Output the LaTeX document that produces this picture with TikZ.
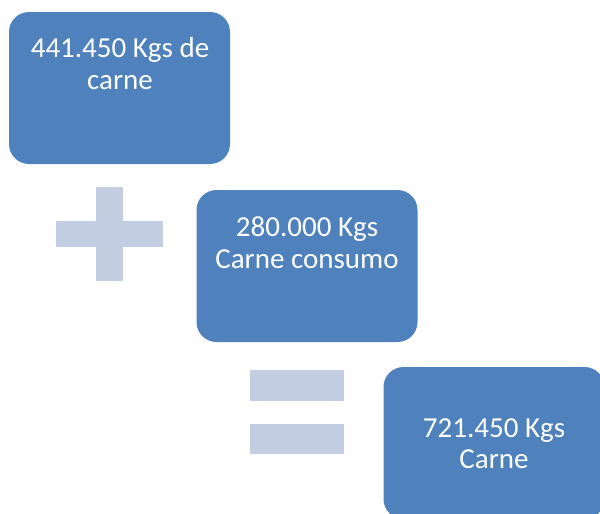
\documentclass[tikz,border=0pt]{standalone}
\usepackage{fontspec}
\setmainfont{Carlito}
\definecolor{boxblue}{RGB}{79,129,189}
\definecolor{oplight}{RGB}{196,206,226}
\tikzset{
  box/.style={fill=boxblue, draw=none, rounded corners=20pt, minimum width=221pt, minimum height=152pt, inner sep=0pt},
  txt/.style={text=white, font=\fontsize{29}{32}\selectfont, anchor=base, inner sep=0pt},
  opbar/.style={fill=oplight, draw=none}
}
\begin{document}
\begin{tikzpicture}[x=1pt,y=-1pt]
\useasboundingbox (0,0) rectangle (600,514);
\clip (0,0) rectangle (600,514);
% boxes
\node[box] (b1) at (119.5,88) {};
\node[box] (b2) at (307,266) {};
\node[box] (b3) at (494,443) {};
% texts
\node[txt] (t1a) at (120,57) {441.450 Kgs de};
\node[txt] (t1b) at (120,89.5) {carne};
\node[txt] (t2a) at (307,236) {280.000 Kgs};
\node[txt] (t2b) at (307,268) {Carne consumo};
\node[txt] (t3a) at (494,437) {721.450 Kgs};
\node[txt] (t3b) at (494,468.5) {Carne};
% plus
\fill[opbar] (56,221) rectangle (163,247);
\fill[opbar] (96,187) rectangle (123,281);
% equals
\fill[opbar] (250,370) rectangle (344,401);
\fill[opbar] (250,424) rectangle (344,454);
\end{tikzpicture}
\end{document}
